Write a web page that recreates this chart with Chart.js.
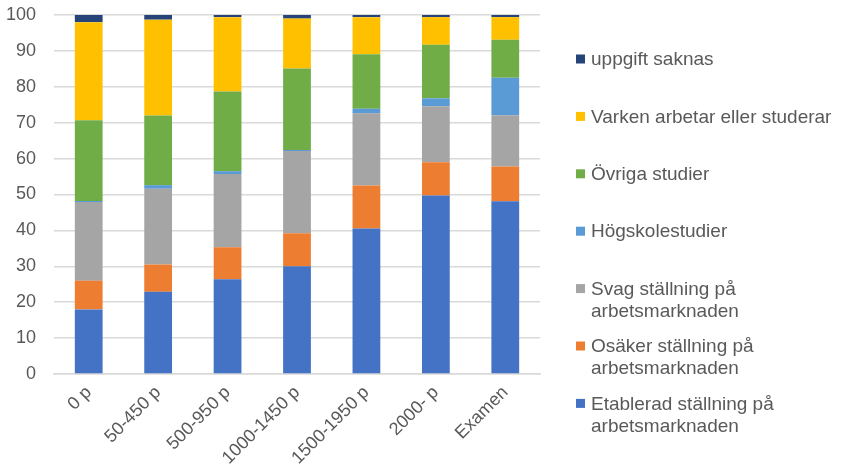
<!DOCTYPE html>
<html>
<head>
<meta charset="utf-8">
<script src="https://cdn.jsdelivr.net/npm/chart.js@4/dist/chart.umd.min.js"></script>
<style>
  html, body { margin: 0; padding: 0; background: #ffffff; }
  #wrap { position: relative; width: 844px; height: 475px; }
</style>
</head>
<body>
<div id="wrap"><canvas id="c" width="844" height="475"></canvas></div>
<script>
const categories = ['0 p', '50-450 p', '500-950 p', '1000-1450 p', '1500-1950 p', '2000- p', 'Examen'];

const etablerad = [18.0, 22.9, 26.4, 30.0, 40.5, 49.7, 48.1];
const osaker    = [8.0, 7.6, 8.9, 9.2, 12.0, 9.3, 9.7];
const svag      = [21.9, 21.1, 20.4, 22.9, 20.1, 15.6, 14.3];
const hogskola  = [0.3, 1.0, 0.8, 0.3, 1.3, 2.2, 10.4];
const ovriga    = [22.5, 19.4, 22.2, 22.7, 15.2, 14.9, 10.6];
const varken    = [27.3, 26.7, 20.7, 13.9, 10.3, 7.7, 6.3];
const saknas    = [2.0, 1.3, 0.6, 1.0, 0.6, 0.6, 0.6];

const seriesNames = [
  ['Etablerad ställning på', 'arbetsmarknaden'],
  ['Osäker ställning på', 'arbetsmarknaden'],
  ['Svag ställning på', 'arbetsmarknaden'],
  ['Högskolestudier'],
  ['Övriga studier'],
  ['Varken arbetar eller studerar'],
  ['uppgift saknas']
];
const seriesValues = [etablerad, osaker, svag, hogskola, ovriga, varken, saknas];
const seriesColors = ['#4472C4', '#ED7D31', '#A5A5A5', '#5B9BD5', '#70AD47', '#FFC000', '#264478'];

const yTicks = [0, 10, 20, 30, 40, 50, 60, 70, 80, 90, 100];

const FONT = '"Liberation Sans", Arial, sans-serif';
const TEXT = '#595959';

const legendPlugin = {
  id: 'sideLegend',
  afterDraw(chart) {
    const ctx = chart.ctx;
    ctx.save();
    ctx.font = '19px ' + FONT;
    ctx.textBaseline = 'middle';
    ctx.textAlign = 'left';
    const n = chart.data.datasets.length;
    const x0 = 576, y0 = 59, step = 57.4, lh = 22;
    for (let i = 0; i < n; i++) {
      const ds = chart.data.datasets[n - 1 - i];
      const y = y0 + i * step;
      ctx.fillStyle = ds.backgroundColor;
      ctx.fillRect(x0, y - 4.5, 9, 9);
      ctx.fillStyle = TEXT;
      ds.legendLines.forEach((t, k) => ctx.fillText(t, x0 + 15, y + k * lh + 1));
    }
    ctx.restore();
  }
};

new Chart(document.getElementById('c'), {
  type: 'bar',
  data: {
    labels: categories,
    datasets: seriesValues.map((vals, i) => ({
      label: seriesNames[i].join(' '),
      legendLines: seriesNames[i],
      data: vals,
      backgroundColor: seriesColors[i],
      borderWidth: 0,
      barPercentage: 0.8,
      categoryPercentage: 0.5
    }))
  },
  options: {
    responsive: false,
    animation: false,
    layout: { padding: { left: 0, right: 304, top: 0, bottom: 0 } },
    plugins: {
      legend: { display: false },
      tooltip: { enabled: false }
    },
    scales: {
      x: {
        stacked: true,
        afterFit(scale) { scale.height = 101; },
        grid: { display: false, drawTicks: false },
        border: { display: true, color: '#d9d9d9', width: 1.5 },
        ticks: {
          color: TEXT,
          font: { family: FONT, size: 18 },
          maxRotation: 45,
          minRotation: 45,
          padding: 8
        }
      },
      y: {
        stacked: true,
        min: 0,
        max: 100,
        afterFit(scale) { scale.width = 54; scale.paddingTop = 15; scale.paddingBottom = 0; },
        afterBuildTicks(scale) { scale.ticks = yTicks.map(v => ({ value: v })); },
        grid: { color: '#d9d9d9', lineWidth: 1.5, drawTicks: false },
        border: { display: false },
        ticks: {
          color: TEXT,
          font: { family: FONT, size: 18 },
          padding: 18
        }
      }
    }
  },
  plugins: [legendPlugin]
});
</script>
</body>
</html>
